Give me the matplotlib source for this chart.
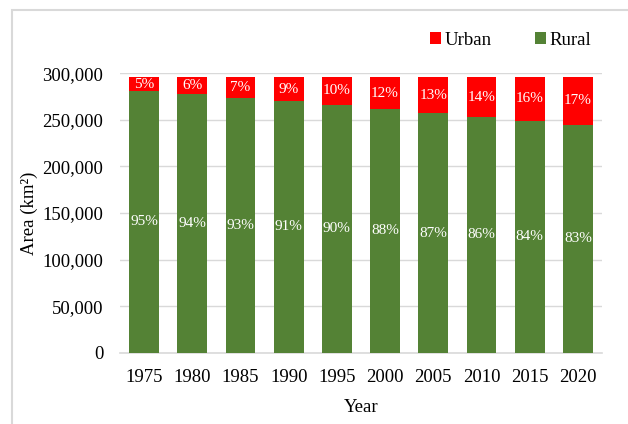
import matplotlib.pyplot as plt
from matplotlib.patches import Rectangle
from matplotlib.ticker import FuncFormatter

years = ["1975", "1980", "1985", "1990", "1995", "2000", "2005", "2010", "2015", "2020"]
rural = [281000, 277500, 274000, 270000, 266000, 261500, 257000, 253000, 249000, 245000]
urban = [15000, 18500, 22000, 26000, 30000, 34500, 39000, 43000, 47000, 51000]
rural_pct = ["95%", "94%", "93%", "91%", "90%", "88%", "87%", "86%", "84%", "83%"]
urban_pct = ["5%", "6%", "7%", "9%", "10%", "12%", "13%", "14%", "16%", "17%"]

green = "#548235"
red = "#FF0000"

plt.rcParams["font.family"] = ["Liberation Serif", "DejaVu Serif"]

fig = plt.figure(figsize=(6.28, 4.24), dpi=100)
# light grey chart frame (cropped on right and bottom)
fig.patches.append(Rectangle((12 / 628, -0.1), 1.2, (424 - 10) / 424 + 0.1,
                             transform=fig.transFigure, fill=False,
                             edgecolor="#D9D9D9", lw=1.5))

ax = fig.add_axes([120 / 628, 1 - 352.7 / 424, 482 / 628, 279.4 / 424])

x = range(len(years))
b1 = ax.bar(x, rural, width=0.62, color=green, label="Rural", zorder=3)
b2 = ax.bar(x, urban, width=0.62, bottom=rural, color=red, label="Urban", zorder=3)

for i in x:
    ax.text(i, rural[i] / 2, rural_pct[i], ha="center", va="center",
            color="white", fontsize=11, zorder=4)
    ax.text(i, rural[i] + urban[i] / 2, urban_pct[i], ha="center", va="center",
            color="white", fontsize=11, zorder=4)

ax.set_xlim(-0.5, len(years) - 0.5)
ax.set_ylim(0, 300000)
ax.set_yticks(range(0, 300001, 50000))
ax.yaxis.set_major_formatter(FuncFormatter(lambda v, p: f"{int(v):,}"))
ax.set_xticks(list(x))
ax.set_xticklabels(years)
ax.grid(axis="y", color="#D9D9D9", lw=1, zorder=0)
for s in ["top", "right", "left"]:
    ax.spines[s].set_visible(False)
ax.spines["bottom"].set_color("#D9D9D9")
ax.spines["bottom"].set_linewidth(1.2)
ax.tick_params(length=0, labelsize=13.5, colors="black")
ax.tick_params(axis="y", pad=12)
ax.tick_params(axis="x", pad=12)

ax.set_xlabel("Year", fontsize=13.5, labelpad=9)
ax.set_ylabel("Area (km²)", fontsize=13.5, labelpad=3)

ax.legend(handles=[b2, b1], labels=["Urban", "Rural"], loc="lower right",
          bbox_to_anchor=(0.994, 1.06), ncol=2, frameon=False, fontsize=13.5,
          handlelength=0.6, handleheight=0.6, handletextpad=0.2,
          columnspacing=2.3, borderaxespad=0)

fig.savefig("out.png", dpi=100)
